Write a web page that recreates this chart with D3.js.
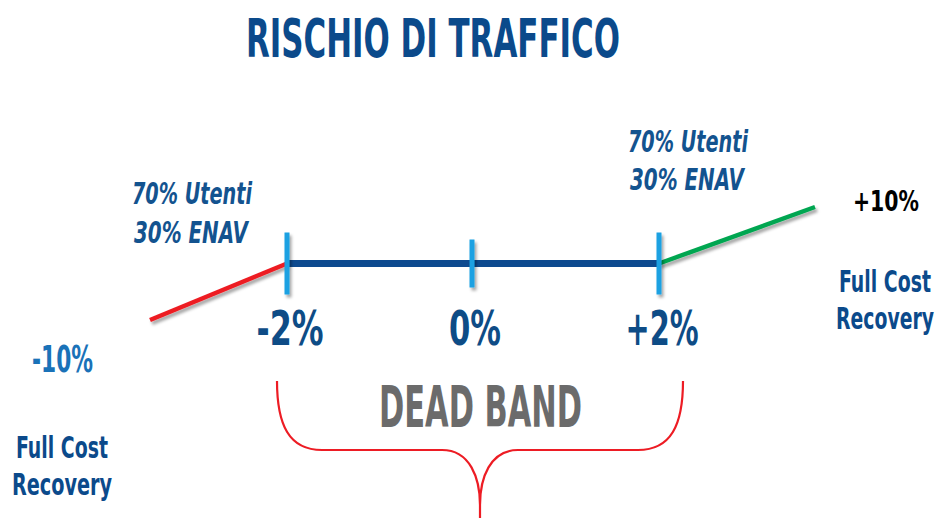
<!DOCTYPE html>
<html>
<head>
<meta charset="utf-8">
<script src="https://cdn.jsdelivr.net/npm/d3@7.9.0/dist/d3.min.js"></script>
<style>
  html, body { margin: 0; padding: 0; background: #fff; }
  svg text { font-family: "Liberation Sans Narrow", "DejaVu Sans Condensed", "DejaVu Sans", sans-serif; font-weight: bold; font-stretch: condensed; }
</style>
</head>
<body>
<svg id="chart" width="941" height="518"></svg>
<script>
// traffic deviation (%) at the break points of the schematic
const breakPoints = [-10, -2, 0, 2, 10];
// the three segments: x = traffic deviation, y = tariff adjustment share
const lowerX = [-10, -2];
const lowerY = [-2.4, 0];
const bandX = [-2, 2];
const bandY = [0, 0];
const upperX = [2, 10];
const upperY = [0, 2.4];
// ticks on the dead band
const tickValues = [-2, 0, 2];
const tickLabels = ['-2%', '0%', '+2%'];
// end labels
const endLabels = ['-10%', '+10%'];
const shareLines = ['70% Utenti', '30% ENAV'];
const recoveryLines = ['Full Cost', 'Recovery'];
const title = 'RISCHIO DI TRAFFICO';
const bandTitle = 'DEAD BAND';

const svg = d3.select('#chart');

// piecewise scale: the dead band is drawn wider than the outer ranges
const x = d3.scaleLinear().domain(breakPoints).range([150, 287, 472, 659, 815]);
const y = d3.scaleLinear().domain([-2.4, 2.4]).range([320, 207]);

const defs = svg.append('defs');
const shadow = defs.append('filter').attr('id', 'shadow')
  .attr('filterUnits', 'userSpaceOnUse')
  .attr('x', 0).attr('y', 0).attr('width', 941).attr('height', 518);
shadow.append('feDropShadow')
  .attr('dx', 2).attr('dy', 3).attr('stdDeviation', 1.5)
  .attr('flood-color', '#000').attr('flood-opacity', 0.35);

// title
svg.append('text')
  .attr('x', 246).attr('y', 57)
  .attr('font-size', 54).attr('fill', '#0b4a8b')
  .attr('textLength', 374).attr('lengthAdjust', 'spacingAndGlyphs')
  .text(title);

const line = d3.line().x(d => x(d[0])).y(d => y(d[1]));

// lines
svg.append('path').datum(d3.zip(lowerX, lowerY))
  .attr('d', line).attr('fill', 'none')
  .attr('stroke', '#ed1c24').attr('stroke-width', 4.5)
  .attr('filter', 'url(#shadow)');

svg.append('path').datum(d3.zip(upperX, upperY))
  .attr('d', line).attr('fill', 'none')
  .attr('stroke', '#00a651').attr('stroke-width', 4.5)
  .attr('filter', 'url(#shadow)');

svg.append('path').datum(d3.zip(bandX, bandY))
  .attr('d', line).attr('fill', 'none')
  .attr('stroke', '#0d4a8f').attr('stroke-width', 7);

// ticks (outer ones longer)
const tickG = svg.append('g');
tickValues.forEach((v, i) => {
  const half = v === 0 ? 24 : 31;
  tickG.append('line')
    .attr('x1', x(v)).attr('x2', x(v))
    .attr('y1', y(0) - half).attr('y2', y(0) + half)
    .attr('stroke', '#1ba1e2').attr('stroke-width', 5)
    .attr('filter', 'url(#shadow)');
  const widths = [67, 52, 73];
  tickG.append('text')
    .attr('x', x(v) + 3).attr('y', 345)
    .attr('text-anchor', 'middle')
    .attr('font-size', 48).attr('fill', '#0e4c86')
    .attr('textLength', widths[i]).attr('lengthAdjust', 'spacingAndGlyphs')
    .text(tickLabels[i]);
});

// end labels
svg.append('text')
  .attr('x', 32).attr('y', 372)
  .attr('font-size', 38).attr('fill', '#1a72b8')
  .attr('textLength', 61).attr('lengthAdjust', 'spacingAndGlyphs')
  .text(endLabels[0]);

svg.append('text')
  .attr('x', 853).attr('y', 211)
  .attr('font-size', 29).attr('fill', '#000')
  .attr('textLength', 66).attr('lengthAdjust', 'spacingAndGlyphs')
  .text(endLabels[1]);

// risk share labels (italic)
function shareLabel(x0, baselines) {
  const widths = [120, 114];
  shareLines.forEach((t, i) => {
    svg.append('text')
      .attr('x', x0 + (i === 1 ? 2 : 0)).attr('y', baselines[i])
      .attr('font-size', 30).attr('font-style', 'italic').attr('fill', '#13538f')
      .attr('textLength', widths[i]).attr('lengthAdjust', 'spacingAndGlyphs')
      .text(t);
  });
}
shareLabel(132, [204, 243]);
shareLabel(628, [152, 190]);

// full cost recovery labels
function recoveryLabel(cx, baselines, widths, size) {
  recoveryLines.forEach((t, i) => {
    svg.append('text')
      .attr('x', cx).attr('y', baselines[i])
      .attr('text-anchor', 'middle')
      .attr('font-size', size).attr('fill', '#0b4a8b')
      .attr('textLength', widths[i]).attr('lengthAdjust', 'spacingAndGlyphs')
      .text(t);
  });
}
recoveryLabel(62, [458, 495], [92, 100], 31);
recoveryLabel(885, [292, 329], [92, 98], 30);

// dead band brace
const bl = x(-2) - 10, br = x(2) + 24, bm = (bl + br) / 2;
const braceTop = 381, braceMid = 450, braceBot = 518;
const brace = d3.path();
brace.moveTo(bl, braceTop);
brace.bezierCurveTo(bl, 425, bl + 12, braceMid, bl + 45, braceMid);
brace.lineTo(bm - 38, braceMid);
brace.bezierCurveTo(bm - 10, braceMid, bm, 478, bm, 505);
brace.lineTo(bm, braceBot);
brace.moveTo(br, braceTop);
brace.bezierCurveTo(br, 425, br - 12, braceMid, br - 45, braceMid);
brace.lineTo(bm + 38, braceMid);
brace.bezierCurveTo(bm + 10, braceMid, bm, 478, bm, 505);
svg.append('path').attr('d', brace.toString())
  .attr('fill', 'none').attr('stroke', '#ed1c24').attr('stroke-width', 2.2);

svg.append('text')
  .attr('x', 379).attr('y', 427)
  .attr('font-size', 57).attr('fill', '#6b6b6b')
  .attr('textLength', 203).attr('lengthAdjust', 'spacingAndGlyphs')
  .text(bandTitle);
</script>
</body>
</html>
